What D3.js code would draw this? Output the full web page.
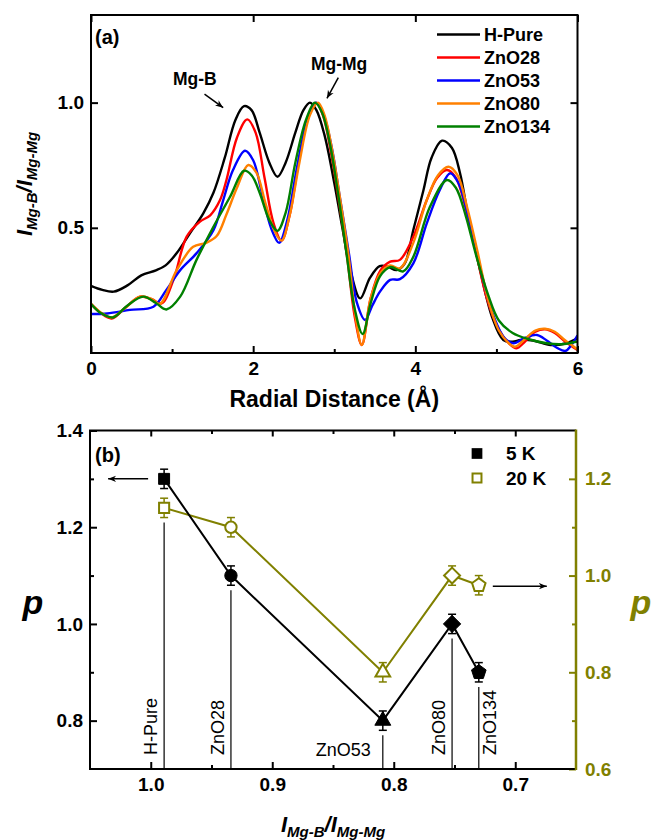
<!DOCTYPE html>
<html>
<head>
<meta charset="utf-8">
<script src="https://cdn.jsdelivr.net/npm/d3@7"></script>
<style>
  html, body { margin: 0; padding: 0; background: #fff; }
  svg { display: block; font-family: "Liberation Sans", Arial, sans-serif; }
</style>
</head>
<body>
<svg id="chart" width="651" height="840"></svg>
<script>
// ---------- Panel (a): normalised radial distribution, [r (Å), I/I(Mg-Mg)] ----------
const hPure = [[0,0.268],[0.14,0.252],[0.28,0.245],[0.45,0.27],[0.62,0.31],[0.8,0.33],[0.92,0.35],[1.06,0.40],[1.22,0.478],[1.385,0.558],[1.51,0.64],[1.65,0.78],[1.78,0.93],[1.887,0.986],[1.98,0.97],[2.08,0.88],[2.2,0.76],[2.30,0.704],[2.40,0.76],[2.52,0.88],[2.62,0.97],[2.70,1.0],[2.78,0.97],[2.88,0.87],[3.0,0.68],[3.1,0.50],[3.2,0.33],[3.32,0.218],[3.44,0.30],[3.56,0.347],[3.66,0.345],[3.77,0.331],[3.87,0.358],[3.975,0.491],[4.10,0.65],[4.2,0.78],[4.33,0.848],[4.45,0.82],[4.55,0.72],[4.65,0.55],[4.8,0.33],[4.95,0.14],[5.085,0.052],[5.2,0.045],[5.3,0.052],[5.45,0.05],[5.67,0.032],[5.85,0.038],[6.0,0.059]];
const znO28 = [[0,0.196],[0.12,0.16],[0.255,0.138],[0.42,0.18],[0.604,0.225],[0.75,0.215],[0.87,0.198],[1.015,0.29],[1.18,0.465],[1.34,0.524],[1.47,0.55],[1.59,0.61],[1.67,0.69],[1.80,0.86],[1.928,0.933],[2.03,0.88],[2.14,0.70],[2.25,0.52],[2.35,0.449],[2.45,0.55],[2.56,0.76],[2.68,0.94],[2.775,1.0],[2.86,0.95],[2.96,0.80],[3.06,0.60],[3.16,0.38],[3.25,0.15],[3.34,0.032],[3.45,0.22],[3.57,0.33],[3.69,0.365],[3.81,0.372],[3.975,0.464],[4.14,0.61],[4.27,0.70],[4.39,0.731],[4.5,0.70],[4.62,0.58],[4.75,0.40],[4.88,0.22],[5.02,0.10],[5.15,0.04],[5.25,0.019],[5.35,0.045],[5.48,0.085],[5.60,0.095],[5.72,0.08],[5.85,0.045],[6.0,0.012]];
const znO53 = [[0,0.156],[0.2,0.158],[0.48,0.172],[0.77,0.185],[0.93,0.252],[1.1,0.331],[1.30,0.398],[1.51,0.49],[1.63,0.61],[1.75,0.73],[1.90,0.808],[2.0,0.77],[2.10,0.65],[2.22,0.50],[2.32,0.44],[2.42,0.53],[2.54,0.74],[2.66,0.92],[2.775,1.0],[2.87,0.95],[2.97,0.82],[3.07,0.62],[3.18,0.40],[3.28,0.20],[3.38,0.132],[3.47,0.19],[3.564,0.245],[3.69,0.292],[3.81,0.295],[3.975,0.358],[4.14,0.517],[4.30,0.65],[4.43,0.718],[4.53,0.68],[4.65,0.55],[4.80,0.34],[4.95,0.16],[5.1,0.06],[5.21,0.039],[5.35,0.06],[5.50,0.072],[5.62,0.05],[5.75,0.02],[5.85,0.008],[5.92,0.03],[6.0,0.071]];
const znO80 = [[0,0.196],[0.12,0.162],[0.255,0.142],[0.42,0.18],[0.604,0.225],[0.75,0.215],[0.85,0.196],[1.057,0.331],[1.26,0.424],[1.42,0.44],[1.55,0.467],[1.67,0.553],[1.8,0.66],[1.94,0.751],[2.04,0.72],[2.15,0.60],[2.26,0.49],[2.35,0.449],[2.45,0.55],[2.57,0.76],[2.70,0.95],[2.80,1.0],[2.88,0.95],[2.98,0.80],[3.08,0.60],[3.18,0.38],[3.26,0.15],[3.34,0.032],[3.45,0.22],[3.57,0.32],[3.69,0.35],[3.81,0.338],[3.975,0.44],[4.14,0.61],[4.28,0.71],[4.41,0.744],[4.52,0.71],[4.64,0.58],[4.77,0.40],[4.90,0.21],[5.03,0.09],[5.15,0.04],[5.23,0.025],[5.35,0.055],[5.48,0.09],[5.60,0.097],[5.72,0.085],[5.85,0.05],[6.0,0.015]];
const znO134 = [[0,0.196],[0.12,0.16],[0.27,0.142],[0.45,0.19],[0.645,0.225],[0.8,0.2],[0.93,0.174],[1.1,0.225],[1.3,0.371],[1.51,0.504],[1.715,0.624],[1.887,0.728],[1.98,0.71],[2.08,0.64],[2.2,0.53],[2.30,0.488],[2.40,0.56],[2.52,0.76],[2.65,0.93],[2.76,1.0],[2.85,0.96],[2.95,0.83],[3.05,0.63],[3.15,0.40],[3.25,0.18],[3.35,0.076],[3.45,0.20],[3.564,0.306],[3.69,0.343],[3.85,0.326],[3.975,0.384],[4.18,0.584],[4.39,0.691],[4.50,0.66],[4.62,0.55],[4.75,0.39],[4.90,0.23],[5.03,0.13],[5.2,0.08],[5.4,0.055],[5.62,0.039],[5.8,0.035],[6.0,0.046]];

const seriesNames = ["H-Pure", "ZnO28", "ZnO53", "ZnO80", "ZnO134"];
const seriesData = [hPure, znO28, znO53, znO80, znO134];
const seriesColors = ["#000000", "#ff0000", "#0000ff", "#ff8000", "#008000"];

const rTicks = [0, 2, 4, 6];
const rMinorTicks = [1, 3, 5];
const ratioTicks = [0.5, 1.0];

// ---------- Panel (b): exponent p versus I(Mg-B)/I(Mg-Mg) ----------
const samples = ["H-Pure", "ZnO28", "ZnO53", "ZnO80", "ZnO134"];
const peakRatio = [0.989, 0.934, 0.809, 0.752, 0.730];
const p5K = [1.30, 1.10, 0.80, 1.00, 0.90];
const err5K = [0.02, 0.02, 0.02, 0.02, 0.02];
const p20K = [1.14, 1.10, 0.80, 1.00, 0.98];
const err20K = [0.02, 0.02, 0.02, 0.02, 0.02];

const ratioAxisTicks = [1.0, 0.9, 0.8, 0.7];
const ratioAxisMinor = [0.95, 0.85, 0.75];
const pLeftTicks = [0.8, 1.0, 1.2, 1.4];
const pLeftMinor = [0.9, 1.1, 1.3];
const pRightTicks = [0.6, 0.8, 1.0, 1.2];
const pRightMinor = [0.7, 0.9, 1.1];

const OLIVE = "#808000";
const FONT = "'Liberation Sans', Arial, sans-serif";

const svg = d3.select("#chart");

// arrowhead definition
const defs = svg.append("defs");
function arrowMarker(id, color) {
  defs.append("marker")
    .attr("id", id)
    .attr("viewBox", "-10 -5 12 10")
    .attr("refX", 0).attr("refY", 0)
    .attr("markerWidth", 10).attr("markerHeight", 8)
    .attr("markerUnits", "userSpaceOnUse")
    .attr("orient", "auto")
    .append("path")
    .attr("d", "M0,0 L-10,-4 L-7,0 L-10,4 Z")
    .attr("fill", color);
}
arrowMarker("arr", "#000");

// ======================= Panel (a) =======================
const A = { left: 91, right: 577.5, top: 15, bottom: 353 };
const xA = d3.scaleLinear().domain([0, 6]).range([A.left, A.right]);
const yA = d3.scaleLinear().domain([0, 1.35]).range([A.bottom, A.top]);

const gA = svg.append("g");

gA.append("clipPath").attr("id", "clipA")
  .append("rect").attr("x", A.left).attr("y", A.top)
  .attr("width", A.right - A.left).attr("height", A.bottom - A.top);

const lineA = d3.line()
  .x(d => xA(d[0])).y(d => yA(d[1]))
  .curve(d3.curveCatmullRom.alpha(0.5));

gA.append("g").attr("clip-path", "url(#clipA)")
  .selectAll("path").data(seriesData).join("path")
  .attr("d", lineA)
  .attr("fill", "none")
  .attr("stroke", (d, i) => seriesColors[i])
  .attr("stroke-width", 2.4)
  .attr("stroke-linejoin", "round");

function styleAxis(g, color) {
  g.select(".domain").remove();
  g.selectAll(".tick line").attr("stroke", color).attr("stroke-width", 2);
  g.selectAll(".tick text")
    .attr("fill", color)
    .style("font-family", FONT)
    .style("font-size", "19px")
    .style("font-weight", "bold");
}

// bottom axis
gA.append("g").attr("transform", `translate(0,${A.bottom})`)
  .call(d3.axisBottom(xA).tickValues(rTicks).tickFormat(d3.format("d")).tickSize(-7).tickPadding(9))
  .call(g => styleAxis(g, "#000"));
gA.append("g").attr("transform", `translate(0,${A.bottom})`)
  .call(d3.axisBottom(xA).tickValues(rMinorTicks).tickFormat("").tickSize(-4))
  .call(g => styleAxis(g, "#000"));
// top axis mirror
gA.append("g").attr("transform", `translate(0,${A.top})`)
  .call(d3.axisTop(xA).tickValues(rTicks).tickFormat("").tickSize(-7))
  .call(g => styleAxis(g, "#000"));
// left axis
gA.append("g").attr("transform", `translate(${A.left},0)`)
  .call(d3.axisLeft(yA).tickValues(ratioTicks).tickFormat(d3.format(".1f")).tickSize(-7).tickPadding(7))
  .call(g => styleAxis(g, "#000"));
// right axis mirror
gA.append("g").attr("transform", `translate(${A.right},0)`)
  .call(d3.axisRight(yA).tickValues(ratioTicks).tickFormat("").tickSize(-7))
  .call(g => styleAxis(g, "#000"));

gA.append("rect")
  .attr("x", A.left).attr("y", A.top)
  .attr("width", A.right - A.left).attr("height", A.bottom - A.top)
  .attr("fill", "none").attr("stroke", "#000").attr("stroke-width", 2);

// panel label
gA.append("text").attr("x", A.left + 4).attr("y", 44)
  .style("font-family", FONT).style("font-size", "20px").style("font-weight", "bold")
  .text("(a)");

// peak annotations
function annot(g, label, tx, ty, x1, y1, x2, y2) {
  g.append("text").attr("x", xA(tx)).attr("y", yA(ty))
    .attr("text-anchor", "middle")
    .style("font-family", FONT).style("font-size", "17.5px").style("font-weight", "bold")
    .text(label);
  g.append("line")
    .attr("x1", xA(x1)).attr("y1", yA(y1)).attr("x2", xA(x2)).attr("y2", yA(y2))
    .attr("stroke", "#000").attr("stroke-width", 1.5)
    .attr("marker-end", "url(#arr)");
}
annot(gA, "Mg-B", 1.28, 1.07, 1.40, 1.034, 1.63, 0.98);
annot(gA, "Mg-Mg", 3.06, 1.13, 3.05, 1.10, 2.91, 1.017);

// legend
const legA = gA.append("g");
seriesNames.forEach((name, i) => {
  const cy = 34.5 + i * 23;
  legA.append("line").attr("x1", 437).attr("x2", 480).attr("y1", cy).attr("y2", cy)
    .attr("stroke", seriesColors[i]).attr("stroke-width", 2.5);
  legA.append("text").attr("x", 484).attr("y", cy).attr("dy", "0.35em")
    .style("font-family", FONT).style("font-size", "18px").style("font-weight", "bold")
    .text(name);
});

// axis titles
gA.append("text")
  .attr("x", (A.left + A.right) / 2).attr("y", 407)
  .attr("text-anchor", "middle")
  .style("font-family", FONT).style("font-size", "23px").style("font-weight", "bold")
  .text("Radial Distance (Å)");

function ratioTitle(sel) {
  sel.style("font-family", FONT).style("font-weight", "bold").style("font-style", "italic");
  sel.append("tspan").style("font-size", "22px").text("I");
  sel.append("tspan").style("font-size", "15px").attr("dy", 5).text("Mg-B");
  sel.append("tspan").style("font-size", "22px").attr("dy", -5).text("/I");
  sel.append("tspan").style("font-size", "15px").attr("dy", 5).text("Mg-Mg");
}
gA.append("text")
  .attr("transform", `translate(32,${(A.top + A.bottom) / 2}) rotate(-90)`)
  .attr("text-anchor", "middle")
  .call(ratioTitle);

// ======================= Panel (b) =======================
const B = { left: 90, right: 576, top: 430.5, bottom: 769 };
const xB = d3.scaleLinear().domain([1.05, 0.65]).range([B.left, B.right]);
const yL = d3.scaleLinear().domain([0.7, 1.4]).range([B.bottom, B.top]);
const yR = d3.scaleLinear().domain([0.6, 1.3]).range([B.bottom, B.top]);

const gB = svg.append("g");

// drop lines from axis to each sample
gB.append("g").selectAll("line").data(samples).join("line")
  .attr("x1", (d, i) => xB(peakRatio[i])).attr("x2", (d, i) => xB(peakRatio[i]))
  .attr("y1", B.bottom)
  .attr("y2", (d, i) => Math.max(yL(p5K[i] - err5K[i]), yR(p20K[i] - err20K[i])) + 5)
  .attr("stroke", "#000").attr("stroke-width", 1.2);

// sample labels
samples.forEach((s, i) => {
  const x = xB(peakRatio[i]);
  const t = gB.append("text")
    .style("font-family", FONT).style("font-size", "18px")
    .text(s);
  if (s === "ZnO53") {
    t.attr("x", x - 12).attr("y", 756).attr("text-anchor", "end");
  } else {
    const off = s === "ZnO134" ? 17 : -7;
    t.attr("transform", `translate(${x + off},755) rotate(-90)`);
  }
});

// custom marker shapes
const pentagon = {
  draw(ctx, size) {
    const r = Math.sqrt(size / 2.3776);
    for (let k = 0; k < 5; k++) {
      const a = -Math.PI / 2 + k * 2 * Math.PI / 5;
      const px = r * Math.cos(a), py = r * Math.sin(a);
      if (k === 0) ctx.moveTo(px, py); else ctx.lineTo(px, py);
    }
    ctx.closePath();
  }
};
const diamond = {
  draw(ctx, size) {
    const r = Math.sqrt(size / 2);
    ctx.moveTo(0, -r); ctx.lineTo(r, 0); ctx.lineTo(0, r); ctx.lineTo(-r, 0); ctx.closePath();
  }
};
const shapes = [d3.symbolSquare, d3.symbolCircle, d3.symbolTriangle, diamond, pentagon];
const shapeSize = [120, 120, 110, 150, 140];

function drawSeries(vals, errs, yScale, color, filled) {
  const line = d3.line().x((d, i) => xB(peakRatio[i])).y(d => yScale(d));
  gB.append("path").datum(vals)
    .attr("d", line).attr("fill", "none")
    .attr("stroke", color).attr("stroke-width", 2);
  const eb = gB.append("g").attr("stroke", color).attr("stroke-width", 1.5);
  vals.forEach((v, i) => {
    const x = xB(peakRatio[i]);
    const y1 = yScale(v - errs[i]), y2 = yScale(v + errs[i]);
    eb.append("line").attr("x1", x).attr("x2", x).attr("y1", y1).attr("y2", y2);
    eb.append("line").attr("x1", x - 4).attr("x2", x + 4).attr("y1", y1).attr("y2", y1);
    eb.append("line").attr("x1", x - 4).attr("x2", x + 4).attr("y1", y2).attr("y2", y2);
  });
  gB.append("g").selectAll("path").data(vals).join("path")
    .attr("transform", (d, i) => `translate(${xB(peakRatio[i])},${yScale(d)})`)
    .attr("d", (d, i) => d3.symbol().type(shapes[i]).size(filled ? shapeSize[i] : shapeSize[i] * 0.85)())
    .attr("fill", filled ? color : "#fff")
    .attr("stroke", color)
    .attr("stroke-width", filled ? 1 : 2);
}
drawSeries(p20K, err20K, yR, OLIVE, false);
drawSeries(p5K, err5K, yL, "#000", true);

// axes of panel (b)
gB.append("g").attr("transform", `translate(0,${B.bottom})`)
  .call(d3.axisBottom(xB).tickValues(ratioAxisTicks).tickFormat(d3.format(".1f")).tickSize(-7).tickPadding(9))
  .call(g => styleAxis(g, "#000"));
gB.append("g").attr("transform", `translate(0,${B.bottom})`)
  .call(d3.axisBottom(xB).tickValues(ratioAxisMinor).tickFormat("").tickSize(-4))
  .call(g => styleAxis(g, "#000"));
gB.append("g").attr("transform", `translate(0,${B.top})`)
  .call(d3.axisTop(xB).tickValues(ratioAxisTicks).tickFormat("").tickSize(-6))
  .call(g => styleAxis(g, "#000"));
gB.append("g").attr("transform", `translate(0,${B.top})`)
  .call(d3.axisTop(xB).tickValues(ratioAxisMinor).tickFormat("").tickSize(-3.5))
  .call(g => styleAxis(g, "#000"));

gB.append("g").attr("transform", `translate(${B.left},0)`)
  .call(d3.axisLeft(yL).tickValues(pLeftTicks).tickFormat(d3.format(".1f")).tickSize(-7).tickPadding(7))
  .call(g => styleAxis(g, "#000"));
gB.append("g").attr("transform", `translate(${B.left},0)`)
  .call(d3.axisLeft(yL).tickValues(pLeftMinor).tickFormat("").tickSize(-4))
  .call(g => styleAxis(g, "#000"));

gB.append("g").attr("transform", `translate(${B.right},0)`)
  .call(d3.axisRight(yR).tickValues(pRightTicks).tickFormat(d3.format(".1f")).tickSize(-7).tickPadding(9))
  .call(g => styleAxis(g, OLIVE));
gB.append("g").attr("transform", `translate(${B.right},0)`)
  .call(d3.axisRight(yR).tickValues(pRightMinor).tickFormat("").tickSize(-4))
  .call(g => styleAxis(g, OLIVE));

// frame: black on three sides, olive on the right
const frame = d3.path();
frame.moveTo(B.right, B.top); frame.lineTo(B.left, B.top);
frame.lineTo(B.left, B.bottom); frame.lineTo(B.right, B.bottom);
gB.append("path").attr("d", frame.toString()).attr("fill", "none")
  .attr("stroke", "#000").attr("stroke-width", 2);
gB.append("line").attr("x1", B.right).attr("x2", B.right)
  .attr("y1", B.top - 1).attr("y2", B.bottom + 1)
  .attr("stroke", OLIVE).attr("stroke-width", 2.5);

gB.append("text").attr("x", B.left + 5).attr("y", 462)
  .style("font-family", FONT).style("font-size", "20px").style("font-weight", "bold")
  .text("(b)");

// legend
const legB = gB.append("g");
legB.append("path").attr("transform", "translate(477,453.5)")
  .attr("d", d3.symbol().type(d3.symbolSquare).size(115)()).attr("fill", "#000");
legB.append("path").attr("transform", "translate(477,478)")
  .attr("d", d3.symbol().type(d3.symbolSquare).size(80)())
  .attr("fill", "#fff").attr("stroke", OLIVE).attr("stroke-width", 2);
[["5 K", 453.5], ["20 K", 478]].forEach(([t, y]) => {
  legB.append("text").attr("x", 506).attr("y", y).attr("dy", "0.36em")
    .style("font-family", FONT).style("font-size", "19px").style("font-weight", "bold")
    .text(t);
});

// axis-direction arrows
gB.append("line")
  .attr("x1", xB(peakRatio[0]) - 16).attr("x2", xB(peakRatio[0]) - 56)
  .attr("y1", yL(p5K[0])).attr("y2", yL(p5K[0]))
  .attr("stroke", "#000").attr("stroke-width", 1.5).attr("marker-end", "url(#arr)");
gB.append("line")
  .attr("x1", xB(peakRatio[4]) + 14).attr("x2", xB(peakRatio[4]) + 68)
  .attr("y1", yR(p20K[4]) + 1).attr("y2", yR(p20K[4]) + 1)
  .attr("stroke", "#000").attr("stroke-width", 1.5).attr("marker-end", "url(#arr)");

// axis titles
gB.append("text").attr("x", 33).attr("y", 614).attr("text-anchor", "middle")
  .style("font-family", FONT).style("font-size", "34px").style("font-weight", "bold").style("font-style", "italic")
  .text("p");
gB.append("text").attr("x", 641).attr("y", 614).attr("text-anchor", "middle")
  .attr("fill", OLIVE)
  .style("font-family", FONT).style("font-size", "34px").style("font-weight", "bold").style("font-style", "italic")
  .text("p");
gB.append("text")
  .attr("x", (B.left + B.right) / 2).attr("y", 832)
  .attr("text-anchor", "middle")
  .call(ratioTitle);
</script>
</body>
</html>
